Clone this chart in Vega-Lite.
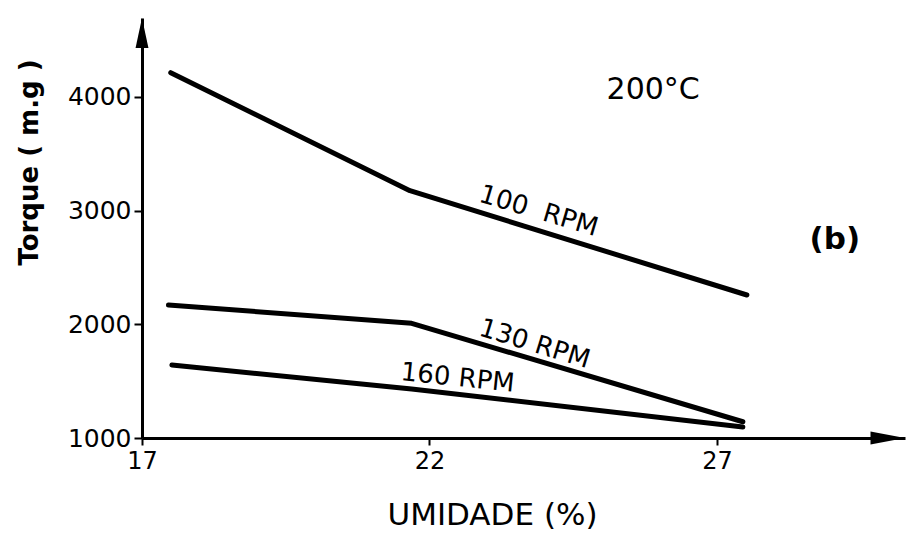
{
  "$schema": "https://vega.github.io/schema/vega-lite/v6.json",
  "width": 763,
  "height": 420,
  "autosize": {"type": "none"},
  "padding": {"left": 142, "top": 18, "right": 1, "bottom": 103},
  "background": "white",
  "config": {
    "view": {"stroke": null},
    "axis": {
      "grid": false,
      "domainColor": "black",
      "domainWidth": 3,
      "tickColor": "black",
      "tickWidth": 2,
      "labelColor": "black",
      "titleColor": "black",
      "labelFont": "DejaVu Sans",
      "titleFont": "DejaVu Sans"
    }
  },
  "datasets": {
    "curves": [
      {"rpm": "100 RPM", "umidade": 17.5, "torque": 4214},
      {"rpm": "100 RPM", "umidade": 21.66, "torque": 3176},
      {"rpm": "100 RPM", "umidade": 27.52, "torque": 2258},
      {"rpm": "130 RPM", "umidade": 17.46, "torque": 2170},
      {"rpm": "130 RPM", "umidade": 21.69, "torque": 2009},
      {"rpm": "130 RPM", "umidade": 27.45, "torque": 1143},
      {"rpm": "160 RPM", "umidade": 17.52, "torque": 1642},
      {"rpm": "160 RPM", "umidade": 21.69, "torque": 1431},
      {"rpm": "160 RPM", "umidade": 27.45, "torque": 1097}
    ],
    "one": [{"k": 1}]
  },
  "layer": [
    {
      "data": {"name": "curves"},
      "mark": {"type": "line", "color": "black", "strokeWidth": 5, "strokeCap": "round", "strokeJoin": "round"},
      "encoding": {
        "x": {
          "field": "umidade", "type": "quantitative",
          "scale": {"domain": [17, 30.27], "nice": false, "zero": false},
          "axis": {
            "values": [17, 22, 27],
            "format": "d",
            "title": "UMIDADE (%)",
            "labelFontSize": 24,
            "tickSize": 7,
            "labelPadding": 4,
            "labelFlush": false,
            "titleFontSize": 31,
            "titleFontWeight": "normal",
            "titleX": 350,
            "titleY": 77,
            "titleBaseline": "middle"
          }
        },
        "y": {
          "field": "torque", "type": "quantitative",
          "scale": {"domain": [1000, 4695], "nice": false, "zero": false},
          "axis": {
            "values": [1000, 2000, 3000, 4000],
            "format": "d",
            "title": "Torque ( m.g )",
            "labelFontSize": 25,
            "tickSize": 8,
            "labelPadding": 3,
            "labelFlush": false,
            "titleFontSize": 26,
            "titleFontWeight": "bold",
            "titleX": -113,
            "titleY": 144,
            "titleBaseline": "middle"
          }
        },
        "detail": {"field": "rpm"}
      }
    },
    {
      "data": {"name": "one"},
      "mark": {"type": "point", "shape": "M0,0 L0.43,2 L-0.43,2 Z", "filled": true, "color": "black", "opacity": 1, "size": 900},
      "encoding": {"x": {"datum": 17}, "y": {"datum": 4695}}
    },
    {
      "data": {"name": "one"},
      "mark": {"type": "point", "shape": "M0,0 L-2.3,-0.43 L-2.3,0.43 Z", "filled": true, "color": "black", "opacity": 1, "size": 900},
      "encoding": {"x": {"datum": 30.27}, "y": {"datum": 1000}}
    },
    {
      "data": {"name": "one"},
      "mark": {"type": "text", "text": "100\u00a0\u00a0RPM", "angle": 16.5, "font": "DejaVu Sans", "fontSize": 26, "color": "black"},
      "encoding": {"x": {"datum": 23.9}, "y": {"datum": 2997}}
    },
    {
      "data": {"name": "one"},
      "mark": {"type": "text", "text": "130 RPM", "angle": 17, "font": "DejaVu Sans", "fontSize": 26, "color": "black"},
      "encoding": {"x": {"datum": 23.83}, "y": {"datum": 1827}}
    },
    {
      "data": {"name": "one"},
      "mark": {"type": "text", "text": "160 RPM", "angle": 6, "font": "DejaVu Sans", "fontSize": 26, "color": "black"},
      "encoding": {"x": {"datum": 22.49}, "y": {"datum": 1528}}
    },
    {
      "data": {"name": "one"},
      "mark": {"type": "text", "text": "200°C", "font": "DejaVu Sans", "fontSize": 30, "color": "black"},
      "encoding": {"x": {"datum": 25.89}, "y": {"datum": 4061}}
    },
    {
      "data": {"name": "one"},
      "mark": {"type": "text", "text": "(b)", "font": "DejaVu Sans", "fontSize": 31, "fontWeight": "bold", "color": "black"},
      "encoding": {"x": {"datum": 29.05}, "y": {"datum": 2742}}
    }
  ]
}
